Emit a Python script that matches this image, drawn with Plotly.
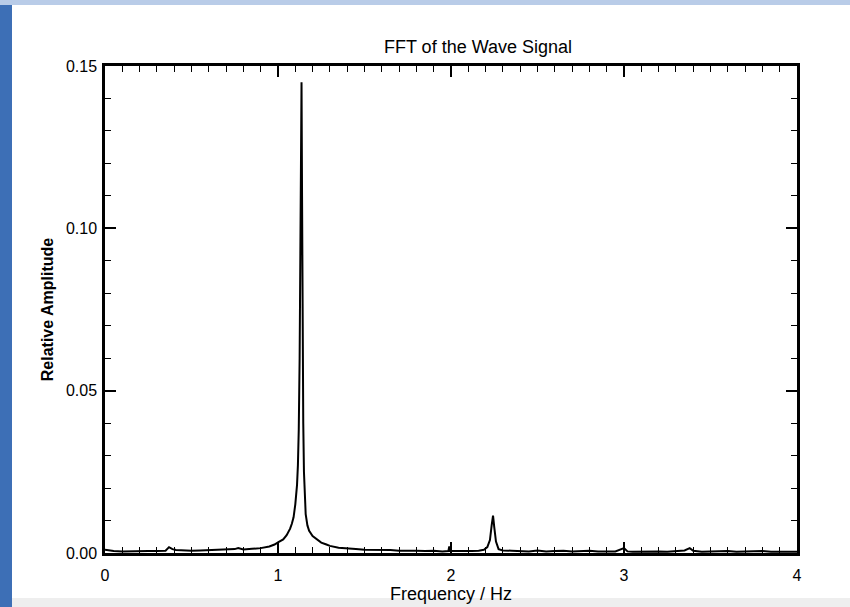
import plotly.graph_objects as go

# Frequency (Hz) and relative amplitude
freq = [0.00, 0.05, 0.10, 0.15, 0.20, 0.25, 0.30, 0.35, 0.37, 0.39, 0.41, 0.45,
        0.50, 0.55, 0.60, 0.65, 0.70, 0.75, 0.77, 0.80, 0.85, 0.90, 0.95, 0.98,
        1.00, 1.03, 1.05, 1.07, 1.08, 1.09, 1.10, 1.11, 1.115, 1.12, 1.125,
        1.13, 1.133, 1.136, 1.139, 1.142, 1.146, 1.15, 1.155, 1.16, 1.17, 1.18,
        1.20, 1.22, 1.25, 1.28, 1.30, 1.35, 1.40, 1.45, 1.50, 1.55, 1.60, 1.65,
        1.70, 1.75, 1.80, 1.85, 1.90, 1.95, 1.985, 1.99, 1.995, 2.03, 2.08, 2.12, 2.16,
        2.19, 2.21, 2.225, 2.235, 2.243, 2.25, 2.26, 2.275, 2.30, 2.35, 2.40,
        2.45, 2.50, 2.55, 2.60, 2.65, 2.70, 2.75, 2.80, 2.85, 2.90, 2.95, 3.00,
        3.02, 3.05, 3.10, 3.15, 3.20, 3.25, 3.30, 3.35, 3.38, 3.40, 3.45, 3.50,
        3.55, 3.60, 3.65, 3.70, 3.75, 3.80, 3.85, 3.90, 3.95, 4.00]
amp = [0.0010, 0.0006, 0.0005, 0.0006, 0.0005, 0.0006, 0.0006, 0.0007, 0.0018, 0.0012, 0.0009, 0.0008,
       0.0007, 0.0008, 0.0009, 0.0008, 0.0010, 0.0012, 0.0015, 0.0011, 0.0013, 0.0015, 0.0020, 0.0026,
       0.0033, 0.0042, 0.0055, 0.0075, 0.0090, 0.0110, 0.0150, 0.0210, 0.0270, 0.0380, 0.0600,
       0.0950, 0.1300, 0.1450, 0.1100, 0.0700, 0.0400, 0.0250, 0.0170, 0.0120, 0.0085, 0.0068,
       0.0052, 0.0043, 0.0032, 0.0026, 0.0022, 0.0016, 0.0013, 0.0012, 0.0010, 0.0010, 0.0008, 0.0009,
       0.0007, 0.0008, 0.0007, 0.0006, 0.0007, 0.0005, 0.0006, 0.0020, 0.0006, 0.0006, 0.0005, 0.0006, 0.0007,
       0.0010, 0.0018, 0.0040, 0.0085, 0.0115, 0.0080, 0.0035, 0.0012, 0.0008, 0.0007, 0.0006,
       0.0005, 0.0008, 0.0005, 0.0006, 0.0007, 0.0005, 0.0006, 0.0007, 0.0005, 0.0006, 0.0005, 0.0015,
       0.0005, 0.0004, 0.0005, 0.0004, 0.0005, 0.0004, 0.0006, 0.0008, 0.0015, 0.0007, 0.0004, 0.0005,
       0.0004, 0.0006, 0.0004, 0.0005, 0.0004, 0.0006, 0.0004, 0.0005, 0.0004, 0.0004]

x_ticks = [0, 1, 2, 3, 4]
x_labels = ["0", "1", "2", "3", "4"]
y_ticks = [0.0, 0.05, 0.10, 0.15]
y_labels = ["0.00", "0.05", "0.10", "0.15"]

fig = go.Figure()
fig.add_trace(go.Scatter(x=freq, y=amp, mode="lines",
                         line=dict(color="black", width=2), showlegend=False))

font = "Liberation Sans, Arial, sans-serif"
axis_common = dict(
    showline=True, linecolor="black", linewidth=2.5, mirror="ticks",
    ticks="inside", ticklen=11, tickwidth=1.8, tickcolor="black",
    showgrid=False, zeroline=False, automargin=False,
    tickfont=dict(family=font, size=16, color="black"),
)
fig.update_xaxes(range=[0, 4], tickvals=x_ticks, ticktext=x_labels, ticklabelstandoff=6,
                 minor=dict(dtick=0.1, ticks="inside", ticklen=6, tickwidth=1.4, tickcolor="black"),
                 title=dict(text="Frequency / Hz", font=dict(family=font, size=18, color="black"), standoff=2),
                 **axis_common)
fig.update_yaxes(range=[0, 0.15], tickvals=y_ticks, ticktext=y_labels, ticklabelstandoff=2,
                 minor=dict(dtick=0.01, ticks="inside", ticklen=6, tickwidth=1.4, tickcolor="black"),
                 title=dict(text="<b>Relative Amplitude</b>", font=dict(family=font, size=16, color="black"), standoff=9),
                 **axis_common)

fig.update_layout(
    width=850, height=607,
    margin=dict(l=105, r=53, t=66, b=54),
    paper_bgcolor="white", plot_bgcolor="white",
    title=dict(text="FFT of the Wave Signal", x=(478 - 105) / 692, xref="paper", xanchor="center",
               y=1 - 47 / 607, yref="container", yanchor="middle",
               font=dict(family=font, size=18, color="black")),
    shapes=[
        dict(type="rect", xref="paper", yref="paper", x0=-105 / 692, x1=-93 / 692,
             y0=-54 / 487, y1=(487 + 66) / 487, fillcolor="#3d6fb6", line=dict(width=0), layer="below"),
        dict(type="rect", xref="paper", yref="paper", x0=-105 / 692, x1=(692 + 53) / 692,
             y0=(487 + 61) / 487, y1=(487 + 66) / 487, fillcolor="#b9cce8", line=dict(width=0), layer="below"),
        dict(type="rect", xref="paper", yref="paper", x0=-93 / 692, x1=(692 + 53) / 692,
             y0=-54 / 487, y1=-45 / 487, fillcolor="#eeeeee", line=dict(width=0), layer="below"),
    ],
)

fig.write_html("out.html", config={"displayModeBar": False},
               post_script="document.body.style.margin='0';")
